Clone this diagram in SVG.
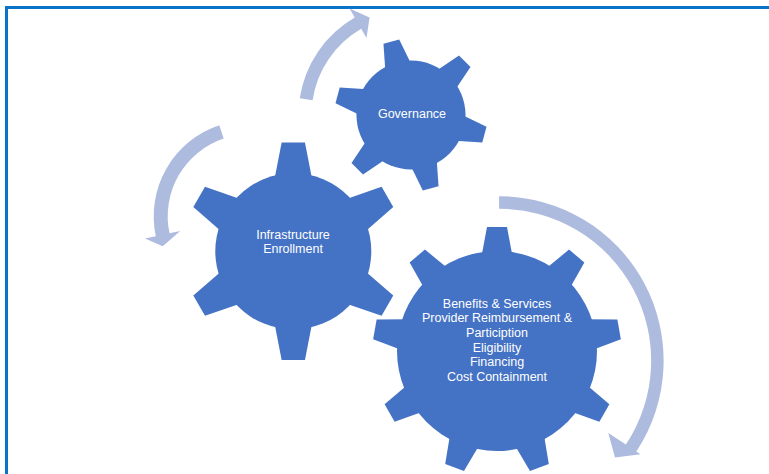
<svg xmlns="http://www.w3.org/2000/svg" xmlns:xlink="http://www.w3.org/1999/xlink" width="769" height="474" viewBox="0 0 769 474">
<style>
.gear{fill:#4472C4}
.arrow{fill:#ADBBDF}
.lbl{fill:#FFFFFF;font-family:"Liberation Sans",Arial,sans-serif;font-size:12.5px;text-anchor:middle}
</style>
<defs>
<polygon id="tooth6" points="70,-19.2 108.7,-11.65 108.7,11.65 70,19.2"/>
<polygon id="tooth9" points="92,-16 124,-10 124,10 92,16"/>
</defs>
<rect width="769" height="474" fill="#FFFFFF"/>
<path d="M6.5,474 V7.5 H769" fill="none" stroke="#0B74C8" stroke-width="3"/>

<g id="gear-infrastructure">
<g class="gear" transform="translate(293.3,251.3)">
<circle r="78"/>
<use xlink:href="#tooth6" transform="rotate(-90)"/>
<use xlink:href="#tooth6" transform="rotate(-30)"/>
<use xlink:href="#tooth6" transform="rotate(30)"/>
<use xlink:href="#tooth6" transform="rotate(90)"/>
<use xlink:href="#tooth6" transform="rotate(150)"/>
<use xlink:href="#tooth6" transform="rotate(210)"/>
</g>
<text class="lbl" x="293" y="239">Infrastructure</text>
<text class="lbl" x="293" y="252.7">Enrollment</text>
</g>

<g id="gear-governance">
<g class="gear" transform="translate(411,115) scale(0.699)">
<circle r="78"/>
<use xlink:href="#tooth6" transform="rotate(15)"/>
<use xlink:href="#tooth6" transform="rotate(75)"/>
<use xlink:href="#tooth6" transform="rotate(135)"/>
<use xlink:href="#tooth6" transform="rotate(195)"/>
<use xlink:href="#tooth6" transform="rotate(255)"/>
<use xlink:href="#tooth6" transform="rotate(315)"/>
</g>
<text class="lbl" x="412" y="118.3">Governance</text>
</g>

<g id="gear-benefits">
<g class="gear" transform="translate(497,351)">
<circle r="100"/>
<use xlink:href="#tooth9" transform="rotate(-90)"/>
<use xlink:href="#tooth9" transform="rotate(-50)"/>
<use xlink:href="#tooth9" transform="rotate(-10)"/>
<use xlink:href="#tooth9" transform="rotate(30)"/>
<use xlink:href="#tooth9" transform="rotate(70)"/>
<use xlink:href="#tooth9" transform="rotate(110)"/>
<use xlink:href="#tooth9" transform="rotate(150)"/>
<use xlink:href="#tooth9" transform="rotate(190)"/>
<use xlink:href="#tooth9" transform="rotate(230)"/>
</g>
<text class="lbl" x="497" y="307.5">Benefits &amp; Services</text>
<text class="lbl" x="497" y="322.2">Provider Reimbursement &amp;</text>
<text class="lbl" x="497" y="336.8">Particiption</text>
<text class="lbl" x="497" y="351.5">Eligibility</text>
<text class="lbl" x="497" y="366.1">Financing</text>
<text class="lbl" x="497" y="380.8">Cost Containment</text>
</g>

<g id="connectors">
<path class="arrow" d="M299.74,98.37 A112.5,112.5 0 0 1 354.75,17.57 L349.5,8.48 L369.58,17.43 L366.5,37.93 L361.25,28.83 A99.5,99.5 0 0 0 312.59,100.29 Z"/>
<path class="arrow" d="M219.24,125.26 A96,96 0 0 0 155.8,236.26 L145.04,238.55 L162.7,246.3 L180.25,231.06 L169.5,233.35 A82,82 0 0 1 223.68,138.54 Z"/>
<path class="arrow" d="M499.1,196.2 A164.5,164.5 0 0 1 636.3,451.5 L640.5,454.3 L615,457.5 L608.3,433 L625.9,444.6 A152,152 0 0 0 499.1,208.7 Z"/>
</g>
</svg>
